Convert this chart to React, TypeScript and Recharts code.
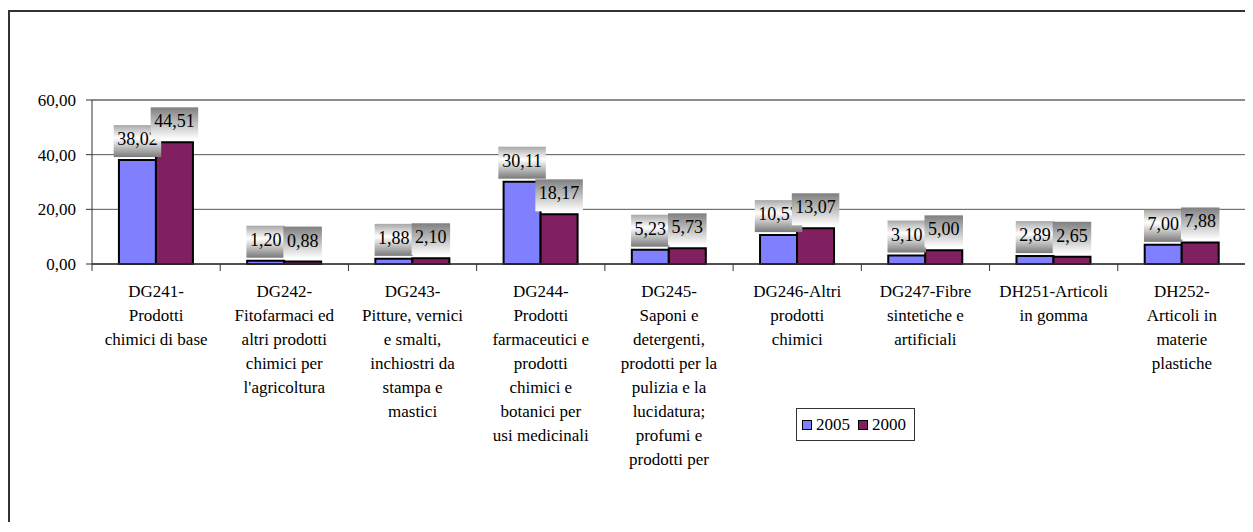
import React from 'react';
import { BarChart, Bar, XAxis, YAxis, CartesianGrid, ReferenceLine, LabelList, Legend } from 'recharts';

const categoryLines: string[][] = [
  ['DG241-', 'Prodotti', 'chimici di base'],
  ['DG242-', 'Fitofarmaci ed', 'altri prodotti', 'chimici per', "l'agricoltura"],
  ['DG243-', 'Pitture, vernici', 'e smalti,', 'inchiostri da', 'stampa e', 'mastici'],
  ['DG244-', 'Prodotti', 'farmaceutici e', 'prodotti', 'chimici e', 'botanici per', 'usi medicinali'],
  ['DG245-', 'Saponi e', 'detergenti,', 'prodotti per la', 'pulizia e la', 'lucidatura;', 'profumi e', 'prodotti per'],
  ['DG246-Altri', 'prodotti', 'chimici'],
  ['DG247-Fibre', 'sintetiche e', 'artificiali'],
  ['DH251-Articoli', 'in gomma'],
  ['DH252-', 'Articoli in', 'materie', 'plastiche'],
];
const categories: string[] = categoryLines.map((l) => l.join(' '));
const values2005: number[] = [38.02, 1.2, 1.88, 30.11, 5.23, 10.57, 3.1, 2.89, 7.0];
const values2000: number[] = [44.51, 0.88, 2.1, 18.17, 5.73, 13.07, 5.0, 2.65, 7.88];
const yTicks: number[] = [0, 20, 40, 60];
const seriesNames = ['2005', '2000'];

const data = categories.map((c, i) => ({ name: c, v2005: values2005[i], v2000: values2000[i] }));

const FONT = '"Liberation Serif", "Times New Roman", "DejaVu Serif", serif';
const CHART_W = 1243;
const CHART_H = 510;
const MARGIN = { top: 88, right: 7, left: 0, bottom: 0 };
const Y_W = 82;
const PLOT_W = CHART_W - MARGIN.right - MARGIN.left - Y_W;
const BAND = PLOT_W / categories.length;
const COLORS = ['#8080FF', '#802060'];

const fmt = (v: number) => v.toFixed(2).replace('.', ',');

function CategoryTick(props: any) {
  const { x, y, payload } = props;
  const idx = categories.indexOf(payload.value);
  const lines = categoryLines[idx] || [];
  const axisY = y - 6;
  return (
    <g>
      {idx === 0 && (
        <line x1={x - BAND / 2} x2={x - BAND / 2} y1={axisY} y2={axisY + 7} stroke="#333" strokeWidth={1} />
      )}
      <line x1={x + BAND / 2} x2={x + BAND / 2} y1={axisY} y2={axisY + 7} stroke="#333" strokeWidth={1} />
      <text x={x} textAnchor="middle" style={{ fontFamily: FONT }} fontSize={17} fill="#000">
        {lines.map((l, i) => (
          <tspan key={i} x={x} y={axisY + 33 + i * 24}>
            {l}
          </tspan>
        ))}
      </text>
    </g>
  );
}

function makeLabel(gradId: string) {
  return (props: any) => {
    const { x, y, width, value } = props;
    const txt = fmt(Number(value));
    const fs = 18;
    const digits = txt.replace(',', '').length;
    const tw = (digits * 0.5 + 0.25) * fs;
    const bw = tw + 7;
    const bh = 32;
    const cx = x + width / 2;
    const bottom = y - 3;
    return (
      <g>
        <rect x={cx - bw / 2} y={bottom - bh} width={bw} height={bh} fill={`url(#${gradId})`} />
        <text x={cx} y={bottom - 12} textAnchor="middle" style={{ fontFamily: FONT }} fontSize={fs} fill="#000">
          {txt}
        </text>
      </g>
    );
  };
}

function LegendContent() {
  return (
    <div
      style={{
        border: '1px solid #333',
        background: '#fff',
        width: 117,
        height: 31,
        display: 'flex',
        alignItems: 'center',
        fontFamily: FONT,
        fontSize: 17,
        color: '#000',
        boxSizing: 'content-box',
      }}
    >
      {seriesNames.map((n, i) => (
        <div key={n} style={{ display: 'flex', alignItems: 'center', marginLeft: i === 0 ? 5 : 8 }}>
          <span
            style={{
              display: 'inline-block',
              width: 8,
              height: 8,
              background: COLORS[i],
              border: '1px solid #000',
              marginRight: 4,
            }}
          />
          <span style={{ lineHeight: '17px' }}>{n}</span>
        </div>
      ))}
    </div>
  );
}

export default function App() {
  return (
    <div style={{ paddingTop: 2, fontFamily: FONT }}>
      <div
        style={{
          borderTop: '2px solid #333',
          borderLeft: '2px solid #333',
          width: CHART_W,
          height: CHART_H,
          position: 'relative',
        }}
      >
        <BarChart
          width={CHART_W}
          height={CHART_H}
          data={data}
          margin={MARGIN}
          barCategoryGap="21%"
          barGap={0}
        >
          <defs>
            <linearGradient id="g2005" x1="0" y1="0" x2="0" y2="1">
              <stop offset="0%" stopColor="#a8a8a8" />
              <stop offset="40%" stopColor="#ffffff" />
              <stop offset="100%" stopColor="#7a7a7a" />
            </linearGradient>
            <linearGradient id="g2000" x1="0" y1="0" x2="0" y2="1">
              <stop offset="0%" stopColor="#7f7f7f" />
              <stop offset="100%" stopColor="#ffffff" />
            </linearGradient>
          </defs>
          <CartesianGrid vertical={false} stroke="#555" strokeWidth={1} />
          <XAxis
            dataKey="name"
            height={CHART_H - MARGIN.top - 164}
            interval={0}
            tickLine={false}
            tickSize={6}
            tickMargin={0}
            axisLine={{ stroke: '#333', strokeWidth: 1.5 }}
            tick={<CategoryTick />}
          />
          <YAxis
            width={Y_W}
            domain={[0, 60]}
            ticks={yTicks}
            tickFormatter={fmt}
            tickSize={6}
            tickMargin={10}
            axisLine={{ stroke: '#333' }}
            tickLine={{ stroke: '#333' }}
            tick={{ fill: '#000', fontSize: 17, style: { fontFamily: FONT } }}
            interval={0}
          />
          <YAxis
            yAxisId="r"
            orientation="right"
            width={0}
            domain={[0, 60]}
            tick={false}
            tickLine={false}
            axisLine={{ stroke: '#8c8c8c', strokeWidth: 2 }}
          />
          <ReferenceLine y={60} stroke="#8c8c8c" strokeWidth={2} />
          <Legend
            layout="horizontal"
            verticalAlign="middle"
            align="center"
            content={<LegendContent />}
            wrapperStyle={{ position: 'absolute', left: 786, top: 396, width: 'auto', height: 'auto' }}
          />
          <Bar dataKey="v2005" name="2005" fill={COLORS[0]} stroke="#000" strokeWidth={2} isAnimationActive={false}>
            <LabelList dataKey="v2005" content={makeLabel('g2005')} />
          </Bar>
          <Bar dataKey="v2000" name="2000" fill={COLORS[1]} stroke="#000" strokeWidth={2} isAnimationActive={false}>
            <LabelList dataKey="v2000" content={makeLabel('g2000')} />
          </Bar>
        </BarChart>
      </div>
    </div>
  );
}
